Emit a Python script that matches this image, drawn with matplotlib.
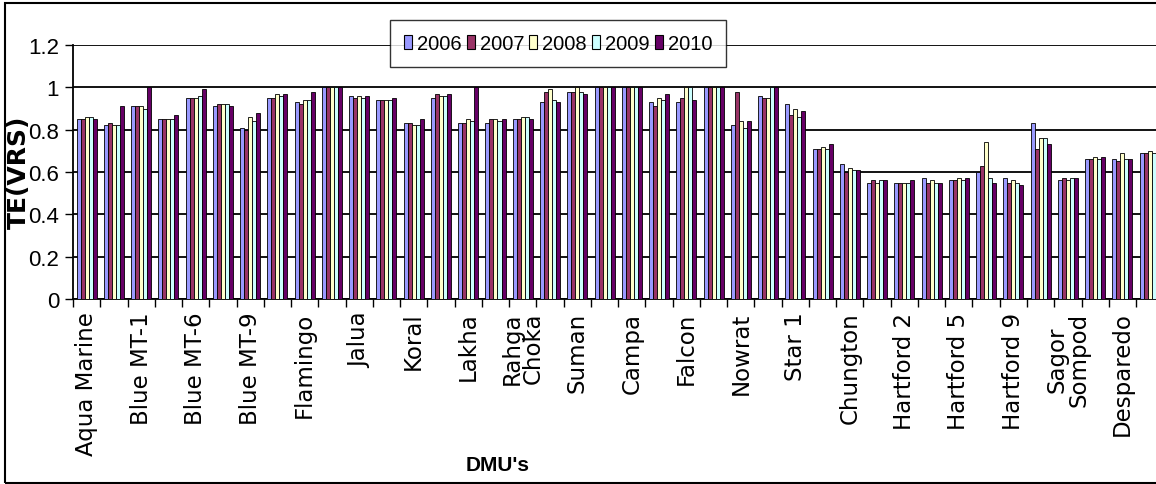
import matplotlib
matplotlib.use("Agg")
import matplotlib.pyplot as plt
from matplotlib.patches import Rectangle
import numpy as np

years = ["2006", "2007", "2008", "2009", "2010"]
colors = ["#9999FF", "#993366", "#FFFFCC", "#CCFFFF", "#660066"]

# 40 DMUs; only every other one carries a label on the axis
label_names = ["Aqua Marine", "Blue MT-1", "Blue MT-6", "Blue MT-9", "Flamingo",
               "Jalua", "Koral", "Lakha", "Rahga\nChoka", "Suman",
               "Campa", "Falcon", "Nowrat", "Star 1", "Chungton",
               "Hartford 2", "Hartford 5", "Hartford 9", "Sagor\nSompod", "Desparedo"]

v2006 = [0.85, 0.82, 0.91, 0.85, 0.95, 0.91, 0.81, 0.95, 0.93, 1.00,
         0.96, 0.94, 0.83, 0.95, 0.83, 0.83, 0.85, 0.93, 0.98, 1.00,
         1.00, 0.93, 0.93, 1.00, 0.82, 0.96, 0.92, 0.71, 0.64, 0.55,
         0.55, 0.57, 0.56, 0.60, 0.57, 0.83, 0.56, 0.66, 0.66, 0.69]
v2007 = [0.85, 0.83, 0.91, 0.85, 0.95, 0.92, 0.80, 0.95, 0.92, 1.00,
         0.95, 0.94, 0.83, 0.97, 0.83, 0.85, 0.85, 0.98, 0.98, 1.00,
         1.00, 0.91, 0.95, 1.00, 0.98, 0.95, 0.87, 0.71, 0.60, 0.56,
         0.55, 0.55, 0.56, 0.63, 0.55, 0.71, 0.57, 0.66, 0.65, 0.69]
v2008 = [0.86, 0.82, 0.91, 0.85, 0.95, 0.92, 0.86, 0.97, 0.94, 1.00,
         0.96, 0.94, 0.82, 0.96, 0.85, 0.85, 0.86, 0.99, 1.00, 1.00,
         1.00, 0.95, 1.00, 1.00, 0.84, 0.95, 0.90, 0.72, 0.62, 0.55,
         0.55, 0.56, 0.57, 0.74, 0.56, 0.76, 0.56, 0.67, 0.69, 0.70]
v2009 = [0.86, 0.82, 0.90, 0.85, 0.96, 0.92, 0.84, 0.96, 0.94, 1.00,
         0.95, 0.94, 0.82, 0.96, 0.84, 0.84, 0.86, 0.94, 0.98, 1.00,
         1.00, 0.94, 1.00, 1.00, 0.81, 1.00, 0.86, 0.71, 0.61, 0.56,
         0.55, 0.55, 0.56, 0.57, 0.55, 0.76, 0.57, 0.66, 0.66, 0.69]
v2010 = [0.85, 0.91, 1.00, 0.87, 0.99, 0.91, 0.88, 0.97, 0.98, 1.00,
         0.96, 0.95, 0.85, 0.97, 1.00, 0.85, 0.85, 0.93, 0.97, 1.00,
         1.00, 0.97, 0.94, 1.00, 0.84, 1.00, 0.89, 0.73, 0.61, 0.56,
         0.56, 0.55, 0.57, 0.55, 0.54, 0.73, 0.57, 0.67, 0.66, 0.70]
series = [v2006, v2007, v2008, v2009, v2010]

yticks = [0, 0.2, 0.4, 0.6, 0.8, 1.0, 1.2]
ytick_labels = ["0", "0.2", "0.4", "0.6", "0.8", "1", "1.2"]

SANS = ["Liberation Sans", "DejaVu Sans"]

W, H = 1156, 485
fig = plt.figure(figsize=(W / 100, H / 100), dpi=100)
fig.patch.set_facecolor("white")

n = len(v2006)
left_px, right_px = 73, 1163.3
top_px, bot_px = 46, 300
ax = fig.add_axes([left_px / W, 1 - bot_px / H, (right_px - left_px) / W, (bot_px - top_px) / H])

bw = 0.147
x = np.arange(n)
for k, (vals, c, yr) in enumerate(zip(series, colors, years)):
    ax.bar(x + 0.5 + (k - 2) * bw, vals, width=bw, color=c, edgecolor="black",
           linewidth=0.6, label=yr, zorder=3)

ax.set_xlim(0, n)
ax.set_ylim(0, 1.2)
ax.set_yticks(yticks)
ax.set_yticklabels(ytick_labels, family=SANS, fontsize=16)
ax.yaxis.grid(True, color="black", linewidth=1.3, zorder=0)
ax.set_axisbelow(True)

# category ticks at group boundaries, labels at every other group centre
ax.set_xticks(np.arange(0, n + 1), minor=True)
ax.set_xticks(np.arange(0, n, 2) + 0.5)
ax.set_xticklabels(label_names, rotation=90, family="DejaVu Sans", fontsize=16.5,
                   linespacing=0.92)
ax.tick_params(axis="x", which="major", length=0, pad=9)
ax.tick_params(axis="x", which="minor", length=6, width=1.0, color="black", direction="out")
ax.tick_params(axis="y", length=6, width=1.0, direction="out", pad=4)

for s in ["top", "right"]:
    ax.spines[s].set_visible(False)
for s in ["left", "bottom"]:
    ax.spines[s].set_color("black")
    ax.spines[s].set_linewidth(1.3)

fig.text(19 / W, 1 - 172 / H, "TE(VRS)", rotation=90, ha="center", va="center",
         fontsize=18, fontweight="bold", family="DejaVu Sans")
fig.text(498 / W, 1 - 466 / H, "DMU's", ha="center", va="center",
         fontsize=15, fontweight="bold", family=SANS)

leg = ax.legend(loc="center", bbox_to_anchor=(558 / W, 1 - 44.5 / H),
                bbox_transform=fig.transFigure, ncol=5, frameon=True,
                fancybox=False, shadow=False, handlelength=0.4, handleheight=0.75,
                handletextpad=0.25, columnspacing=0.25, borderpad=0.7,
                borderaxespad=0.0, prop={"family": SANS, "size": 14.5})
leg.get_frame().set_edgecolor("black")
leg.get_frame().set_linewidth(1.0)
leg.set_zorder(10)
for h in leg.legend_handles:
    h.set_edgecolor("black")
    h.set_linewidth(0.8)

# outer chart frame
fig.patches.append(Rectangle((5 / W, 1 - 484 / H), 1.2, (484 - 4) / H,
                             transform=fig.transFigure, fill=False,
                             edgecolor="black", linewidth=1.5, zorder=20))

fig.savefig("out.png", dpi=100, facecolor="white")
